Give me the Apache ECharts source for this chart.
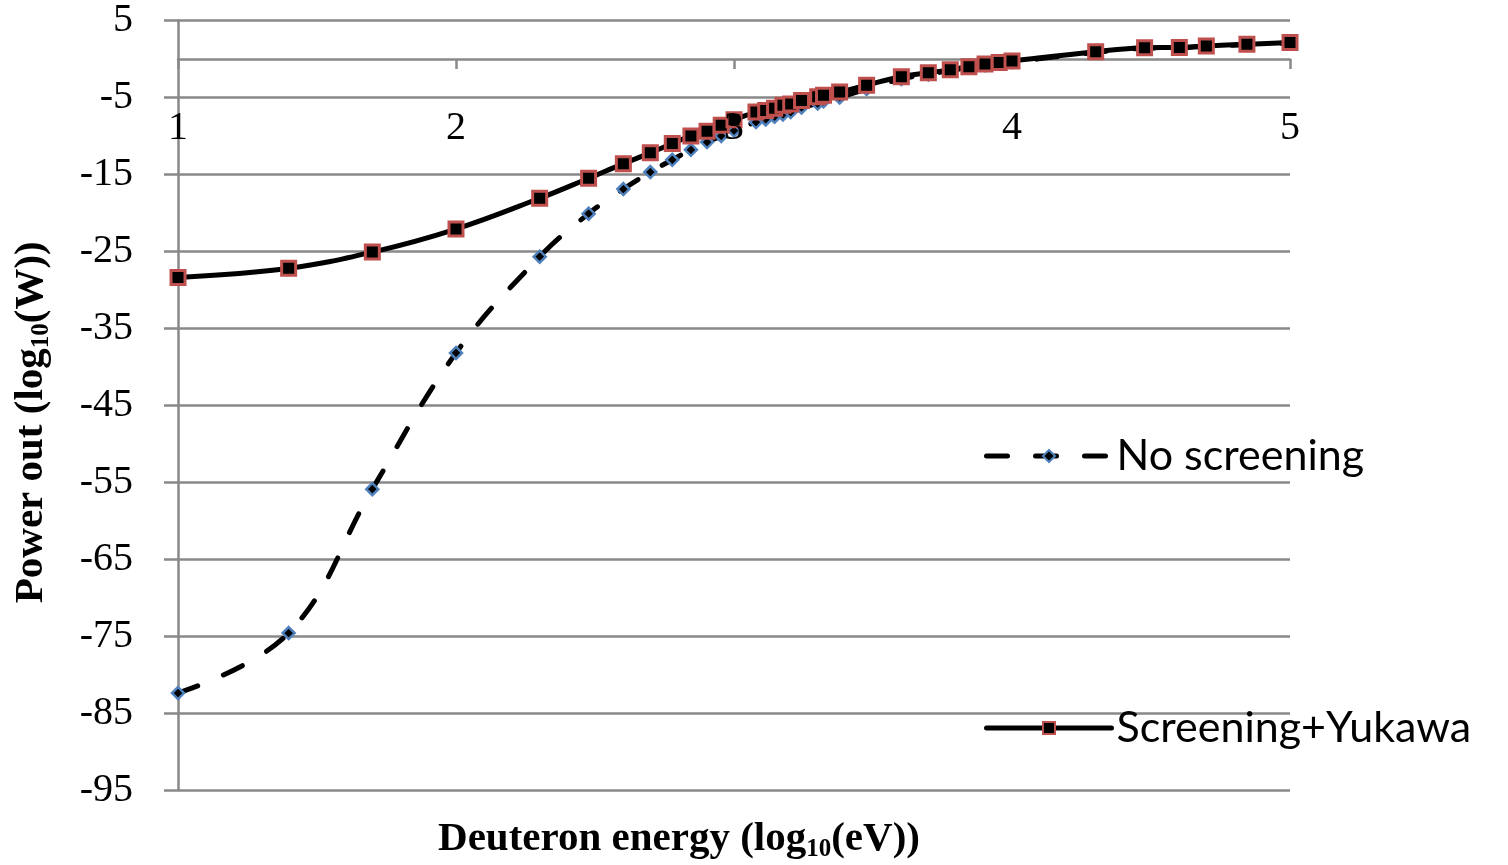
<!DOCTYPE html>
<html lang="en">
<head>
    <meta charset="UTF-8">
    <title>Power out vs deuteron energy</title>
    <script src="https://cdn.jsdelivr.net/npm/echarts@6/dist/echarts.min.js"></script>
    <style>
        html, body { margin: 0; padding: 0; background: #fff; }
    </style>
</head>
<body>
<div id="main" style="width:1508px;height:865px;"></div>
<script>
    // log10 of deuteron energy (eV)
    var energy = [1.0, 1.398, 1.699, 2.0, 2.301, 2.477, 2.602, 2.699, 2.778, 2.845, 2.903, 2.954, 3.0,
        3.079, 3.114, 3.146, 3.176, 3.204, 3.243, 3.301, 3.322, 3.38, 3.477, 3.602, 3.699, 3.778,
        3.845, 3.903, 3.954, 4.0, 4.301, 4.477, 4.602, 4.699, 4.845, 5.0];
    // log10 of power out (W)
    var noScreening = [-82.4, -74.6, -55.9, -38.2, -25.7, -20.1, -16.9, -14.7, -13.1, -11.8, -10.8, -10.0, -9.3,
        -8.2, -7.85, -7.5, -7.2, -6.9, -6.3, -5.8, -5.5, -5.0, -3.9, -2.6, -2.0, -1.5,
        -1.1, -0.8, -0.6, -0.4, 0.85, 1.4, 1.45, 1.65, 1.85, 2.1];
    var screeningYukawa = [-28.4, -27.2, -25.1, -22.1, -18.1, -15.5, -13.6, -12.2, -11.0, -10.0, -9.4, -8.6, -7.9,
        -6.9, -6.7, -6.4, -6.0, -5.85, -5.4, -4.9, -4.7, -4.3, -3.4, -2.3, -1.8, -1.4,
        -1.0, -0.65, -0.45, -0.25, 0.95, 1.45, 1.5, 1.7, 1.9, 2.15];
    var seriesNames = ['No screening', 'Screening+Yukawa'];

    function pairs(xs, ys) {
        var out = [];
        for (var i = 0; i < xs.length; i++) {
            out.push([xs[i], ys[i]]);
        }
        return out;
    }

    var gridColor = '#898989';
    var serif = '"Liberation Serif", "Times New Roman", serif';
    var subStyle = {
        fontFamily: serif, fontWeight: 'bold', fontSize: 25, color: '#000',
        lineHeight: 24, verticalAlign: 'bottom'
    };
    var nameStyle = {
        fontFamily: serif, fontWeight: 'bold', fontSize: 41, color: '#000', lineHeight: 46
    };

    var chart = echarts.init(document.getElementById('main'));
    var option = {
        animation: false,
        backgroundColor: '#fff',
        grid: {
            left: 178,
            right: 218,
            top: 20.5,
            bottom: 75,
            outerBoundsMode: 'none'
        },
        legend: {
            orient: 'vertical',
            left: 979,
            top: 428,
            itemGap: 226,
            itemWidth: 125,
            itemHeight: 15,
            data: seriesNames,
            lineStyle: {
                width: 5,
                cap: 'round'
            },
            textStyle: {
                fontFamily: 'Lato, "Open Sans", sans-serif',
                fontSize: 43,
                color: '#000',
                lineHeight: 46
            }
        },
        xAxis: [
            {
                type: 'value',
                min: 1,
                max: 5,
                interval: 1,
                // axis sits on y = 0, which is 731 px above the plot bottom
                offset: -731,
                name: 'Deuteron energy (log{sub|10}(eV))',
                nameLocation: 'middle',
                nameGap: 757,
                nameTextStyle: Object.assign({}, nameStyle, {
                    padding: [0, 110, 0, 0],
                    rich: { sub: subStyle }
                }),
                axisLine: {
                    onZero: false,
                    lineStyle: { color: gridColor, width: 2.5 }
                },
                axisTick: {
                    show: true,
                    length: 10,
                    lineStyle: { color: gridColor, width: 2.5 }
                },
                axisLabel: { show: false },
                splitLine: { show: false }
            },
            {
                // labels only, drawn above the curves
                type: 'value',
                min: 1,
                max: 5,
                interval: 1,
                position: 'bottom',
                offset: -731,
                z: 5,
                axisLine: { show: false },
                axisTick: { show: false },
                axisLabel: {
                    margin: 49,
                    fontFamily: serif,
                    fontSize: 40,
                    color: '#000'
                },
                splitLine: { show: false }
            }
        ],
        yAxis: {
            type: 'value',
            min: -95,
            max: 5,
            interval: 10,
            name: 'Power out (log{sub|10}(W))',
            nameLocation: 'middle',
            nameGap: 124,
            nameTextStyle: Object.assign({}, nameStyle, {
                padding: [0, 34, 0, 0],
                rich: { sub: subStyle }
            }),
            axisLine: {
                show: true,
                onZero: false,
                lineStyle: { color: gridColor, width: 2.5 }
            },
            axisTick: {
                show: true,
                length: 14,
                lineStyle: { color: gridColor, width: 2.5 }
            },
            axisLabel: {
                margin: 45,
                fontFamily: serif,
                fontSize: 40,
                color: '#000'
            },
            splitLine: {
                show: true,
                lineStyle: { color: gridColor, width: 2.5 }
            }
        },
        series: [
            {
                name: seriesNames[0],
                type: 'line',
                xAxisIndex: 0,
                smooth: 0.4,
                data: pairs(energy, noScreening),
                symbol: 'diamond',
                symbolSize: 12,
                showAllSymbol: true,
                lineStyle: {
                    color: '#000',
                    width: 5,
                    type: [21, 28],
                    cap: 'round'
                },
                itemStyle: {
                    color: '#000',
                    borderColor: '#4f81bd',
                    borderWidth: 2.5
                }
            },
            {
                name: seriesNames[1],
                type: 'line',
                xAxisIndex: 0,
                smooth: 0.4,
                data: pairs(energy, screeningYukawa),
                symbol: 'rect',
                symbolSize: 14,
                showAllSymbol: true,
                lineStyle: {
                    color: '#000',
                    width: 5
                },
                itemStyle: {
                    color: '#000',
                    borderColor: '#c0504d',
                    borderWidth: 3
                }
            }
        ]
    };
    chart.setOption(option);
</script>
</body>
</html>
